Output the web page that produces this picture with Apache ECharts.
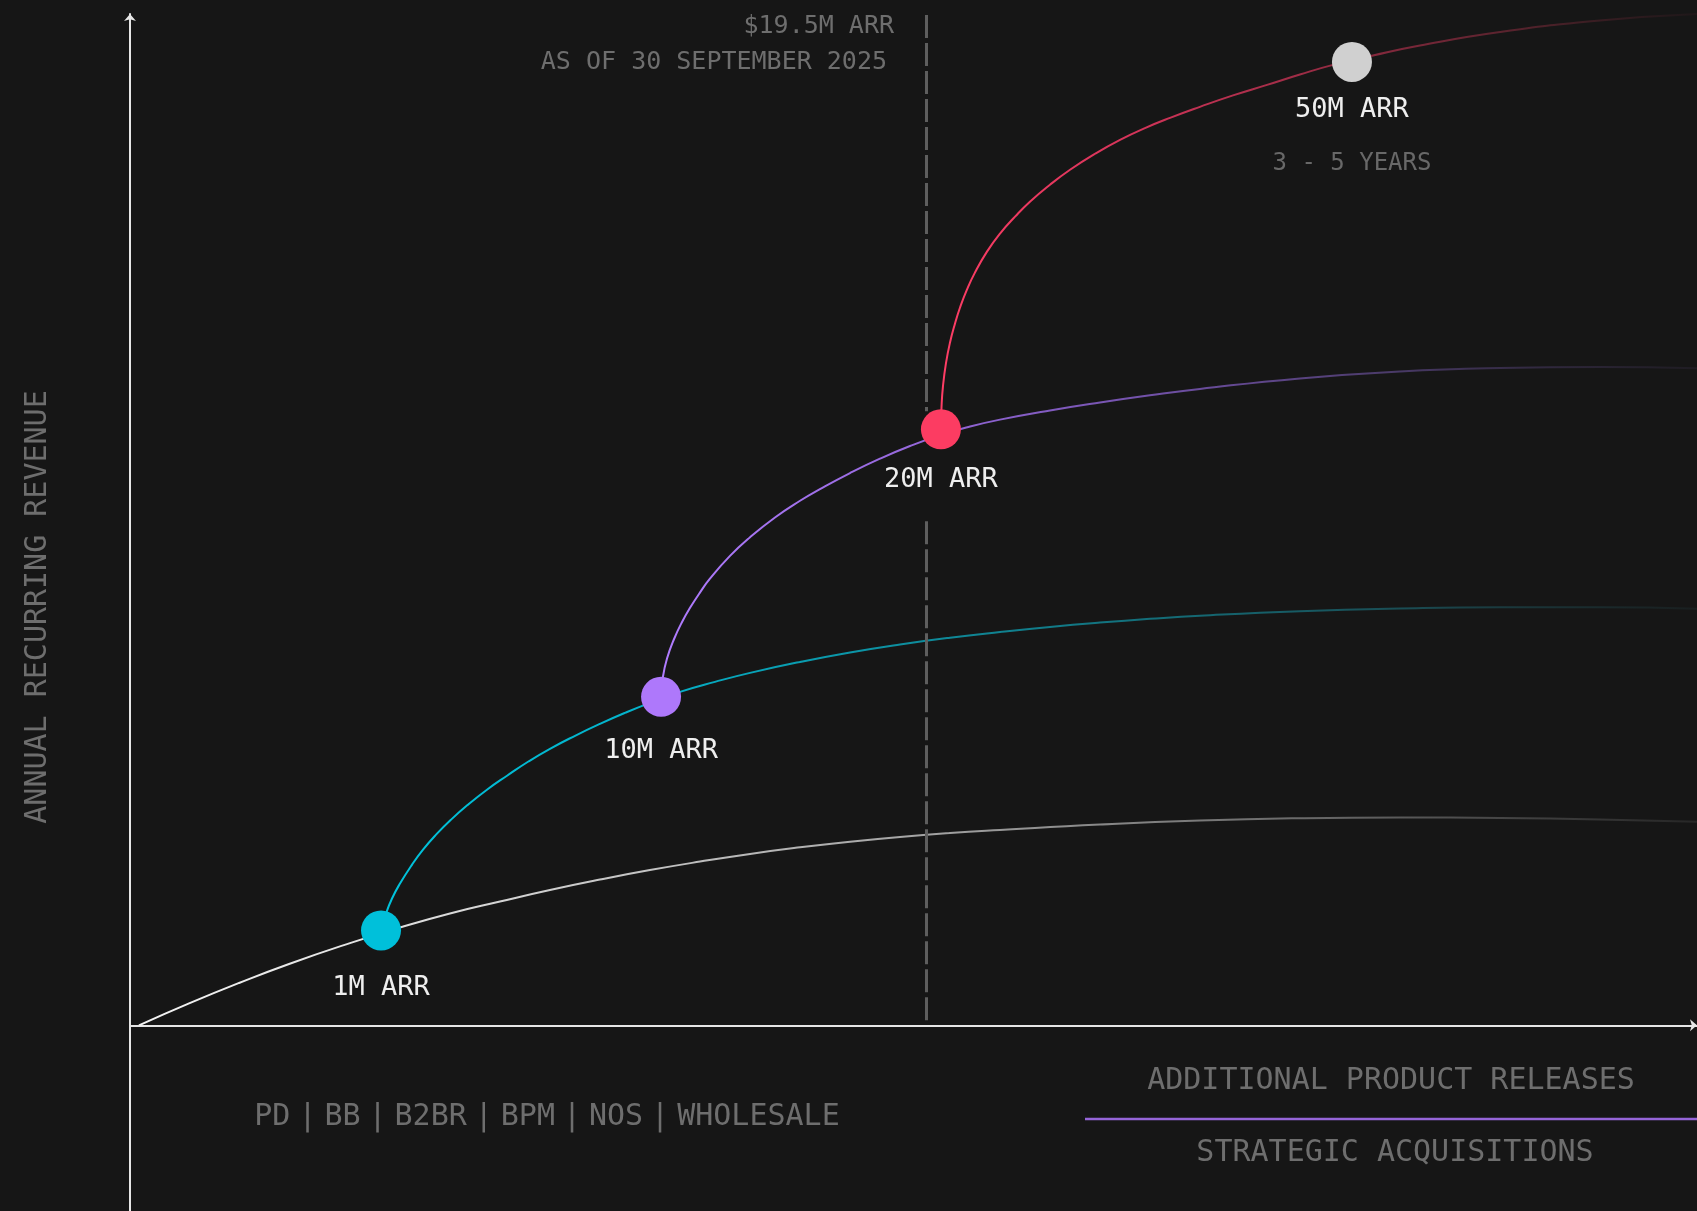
<!DOCTYPE html>
<html>
<head>
<meta charset="utf-8">
<title>ARR growth path</title>
<script src="https://cdn.jsdelivr.net/npm/echarts@6/dist/echarts.min.js"></script>
<style>
  html, body { margin: 0; padding: 0; background: #161616; }
  #main { width: 1697px; height: 1211px; }
</style>
</head>
<body>
<div id="main"></div>
<script>
// curves, both axes on an abstract 0-100 scale
const baseCurve = [
  [0.57, 0], [3.77, 2.17], [6.96, 4.19], [10.15, 6.07], [14.04, 8.13], [17.23, 9.67], [20.42, 11.06],
  [23.61, 12.24], [26.8, 13.38], [29.99, 14.41], [33.18, 15.35], [36.38, 16.19], [39.57, 16.95],
  [42.76, 17.6], [45.95, 18.16], [49.14, 18.63], [52.33, 19.01], [55.52, 19.31], [61.9, 19.85],
  [68.28, 20.25], [74.66, 20.48], [81.05, 20.56], [87.43, 20.51], [93.81, 20.36], [100, 20.13]
];
const cyanCurve = [
  [16.02, 9.38], [16.34, 11.06], [16.72, 12.54], [17.23, 14.02], [18.0, 15.89], [18.7, 17.37],
  [19.53, 18.85], [20.49, 20.34], [21.57, 21.82], [22.78, 23.3], [24.06, 24.68], [25.4, 26.06],
  [26.8, 27.34], [28.4, 28.63], [29.99, 29.81], [31.59, 30.9], [33.18, 31.89], [35.1, 32.97],
  [37.33, 33.96], [39.57, 34.85], [42.76, 35.93], [45.95, 36.87], [49.14, 37.66], [52.33, 38.33],
  [55.52, 38.89], [58.71, 39.39], [61.9, 39.82], [65.09, 40.19], [68.28, 40.5], [74.66, 40.95],
  [81.05, 41.22], [87.43, 41.34], [93.81, 41.34], [100, 41.2]
];
const purpleCurve = [
  [33.89, 32.48], [34.01, 34.45], [34.27, 36.27], [34.72, 38.2], [35.23, 39.88], [35.74, 41.28],
  [36.38, 42.81], [37.01, 44.16], [38.29, 46.42], [39.57, 48.27], [41.16, 50.22], [42.76, 51.87],
  [44.03, 53.02], [45.95, 54.61], [47.86, 56.03], [49.78, 57.28], [51.75, 58.38], [53.61, 59.21],
  [55.52, 59.89], [58.71, 60.8], [61.9, 61.59], [65.09, 62.3], [68.28, 62.93], [74.66, 63.97],
  [81.05, 64.66], [87.43, 65.0], [93.81, 65.1], [100, 64.96]
];
const redCurve = [
  [51.75, 58.93], [51.79, 61.2], [51.88, 63.18], [52.07, 65.45], [52.33, 67.52], [52.65, 69.4],
  [52.97, 70.98], [53.41, 72.75], [53.92, 74.43], [54.69, 76.5], [55.52, 78.28], [56.48, 79.96],
  [57.43, 81.44], [58.71, 83.12], [59.99, 84.6], [61.58, 86.18], [63.18, 87.56], [64.77, 88.72],
  [66.37, 89.73], [68.28, 90.82], [70.39, 91.95], [72.56, 92.99], [74.66, 94.02], [76.77, 94.97],
  [79.32, 95.9], [82.32, 96.89], [87.43, 98.22], [93.81, 99.36], [100, 100]
];

const milestones = [[16.02, 9.38], [33.89, 32.48], [51.75, 58.93], [77.98, 95.26]];
const milestoneNames = ['1M ARR', '10M ARR', '20M ARR', '50M ARR'];

// "as of" marker, drawn in two pieces around the 20M label
const todayX = 50.8;
const todaySegments = [[99.9, 60.71], [49.85, 0]];

const bottomStreams = ['PD', 'BB', 'B2BR', 'BPM', 'NOS', 'WHOLESALE'];

// styles
const mono = "'DejaVu Sans Mono', monospace";
const dotColors = ['#00c0da', '#ae78fb', '#fc3c62', '#d0d0d0'];
const labelDrop = [58, 54, 51, 48];
const grey = '#6e6e6e';

function fade(stops) {
  return new echarts.graphic.LinearGradient(0, 0, 1, 0,
    stops.map(s => ({ offset: s[0], color: s[1] })));
}

function curve(data, color, z) {
  return {
    type: 'line', data: data, smooth: 0.5, showSymbol: false, silent: true, z: z,
    lineStyle: { width: 2, color: color }
  };
}

function label(text, x, y, size, color, align, extra) {
  return Object.assign({
    type: 'text', x: x, y: y,
    style: {
      text: text, fill: color, font: size + 'px ' + mono,
      align: align, textAlign: align, verticalAlign: 'middle', textVerticalAlign: 'middle'
    }
  }, extra || {});
}

const chart = echarts.init(document.getElementById('main'));

const option = {
  backgroundColor: '#161616',
  animation: false,
  grid: { left: 130, right: 0, top: 14, bottom: 0 },
  xAxis: {
    type: 'value', min: 0, max: 100,
    axisLine: { lineStyle: { color: '#e6e6e6', width: 2 }, symbol: ['none', 'arrow'], symbolSize: [9, 7] },
    axisTick: { show: false }, axisLabel: { show: false }, splitLine: { show: false }
  },
  yAxis: {
    type: 'value', min: -18.36, max: 100,
    axisLine: { show: true, lineStyle: { color: '#e6e6e6', width: 2 }, symbol: ['none', 'arrow'], symbolSize: [9, 7] },
    axisTick: { show: false }, axisLabel: { show: false }, splitLine: { show: false }
  },
  series: [
    curve(baseCurve, fade([[0, '#f4f4f4'], [0.15, '#e2e2e2'], [0.5, '#a4a4a4'], [0.8, '#5c5c5c'], [1, 'rgba(70,70,70,0.35)']]), 2),
    curve(cyanCurve, fade([[0, '#00c3dc'], [0.2, '#04b2ca'], [0.41, '#0e8c9c'], [0.6, '#146b76'], [0.78, '#1a4c53'], [1, 'rgba(30,44,46,0.4)']]), 3),
    curve(purpleCurve, fade([[0, '#b07cff'], [0.27, '#9366d8'], [0.45, '#7553ae'], [0.7, '#4b3b6a'], [1, 'rgba(44,38,54,0.4)']]), 4),
    curve(redCurve, fade([[0, '#ff3d65'], [0.25, '#d6345a'], [0.54, '#8e2a40'], [0.8, '#4c2129'], [1, 'rgba(44,26,30,0.4)']]), 5),
    {
      type: 'line', data: [], silent: true,
      markLine: {
        silent: true, symbol: ['none', 'none'], animation: false,
        label: { show: false },
        lineStyle: { color: '#5e5e5e', width: 3, type: [23, 5] },
        data: todaySegments.map(s => [{ coord: [todayX, s[0]] }, { coord: [todayX, s[1]] }])
      }
    },
    {
      type: 'scatter', symbolSize: 40, z: 10, silent: true,
      data: milestones.map((p, i) => ({
        value: p,
        name: milestoneNames[i],
        itemStyle: { color: dotColors[i], opacity: 1 },
        label: { offset: [0, labelDrop[i]] }
      })),
      label: {
        show: true, position: 'inside', formatter: '{b}',
        color: '#eeeeee', fontFamily: mono, fontSize: 27
      }
    }
  ],
  graphic: [
    label('$19.5M ARR', 894, 26, 25, grey, 'right'),
    label('AS OF 30 SEPTEMBER 2025', 887, 62, 25, grey, 'right'),
    label('3 - 5 YEARS', 1352, 164, 24, '#686868', 'center'),
    label('ANNUAL RECURRING REVENUE', 38, 607, 30, grey, 'center', { rotation: Math.PI / 2 }),
    {
      type: 'text', x: 547, y: 1117,
      style: {
        text: bottomStreams.map(s => '{w|' + s + '}').join('{s||}'),
        align: 'center', textAlign: 'center', verticalAlign: 'middle', textVerticalAlign: 'middle',
        rich: {
          w: { font: '30px ' + mono, fill: grey, color: grey },
          s: { font: '30px ' + mono, fill: grey, color: grey, width: 34, align: 'center' }
        }
      }
    },
    label('ADDITIONAL PRODUCT RELEASES', 1391, 1081, 30, grey, 'center'),
    { type: 'line', shape: { x1: 1085, y1: 1119, x2: 1697, y2: 1119 }, style: { stroke: '#9565d8', lineWidth: 2.5 } },
    label('STRATEGIC ACQUISITIONS', 1395, 1153, 30, grey, 'center')
  ]
};

option && chart.setOption(option);
</script>
</body>
</html>
